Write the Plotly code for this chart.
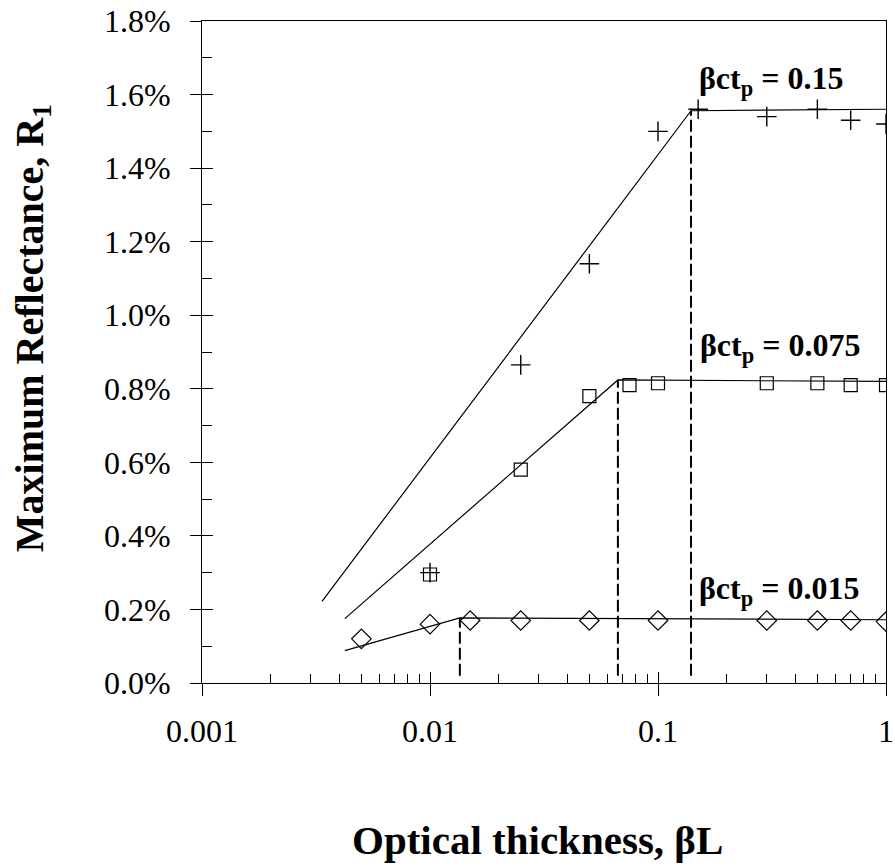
import math
import plotly.graph_objects as go

# Optical thickness values (beta*L) for the simulated points
x_015 = [0.01, 0.025, 0.05, 0.1, 0.15, 0.3, 0.5, 0.7, 1.0]
r_015 = [0.0030, 0.00865, 0.0114, 0.0150, 0.0156, 0.0154, 0.0156, 0.0153, 0.0152]

x_0075 = [0.01, 0.025, 0.05, 0.075, 0.1, 0.3, 0.5, 0.7, 1.0]
r_0075 = [0.00295, 0.0058, 0.0078, 0.0081, 0.00815, 0.00815, 0.00815, 0.0081, 0.0081]

x_0015 = [0.005, 0.01, 0.015, 0.025, 0.05, 0.1, 0.3, 0.5, 0.7, 1.0]
r_0015 = [0.0012, 0.0016, 0.0017, 0.0017, 0.0017, 0.0017, 0.0017, 0.0017, 0.0017, 0.00167]

# Piecewise fits: rising branch, knee, plateau
fit_x_015 = [0.00336, 0.1396, 1.0]
fit_r_015 = [0.00222, 0.01556, 0.0156]
fit_x_0075 = [0.00423, 0.0667, 1.0]
fit_r_0075 = [0.00175, 0.00824, 0.0082]
fit_x_0015 = [0.00423, 0.01352, 1.0]
fit_r_0015 = [0.00088, 0.00177, 0.00172]

# Knee markers (dashed drop lines)
knee_x = [0.1396, 0.0667, 0.01352]
knee_r = [0.01556, 0.00824, 0.00177]
drop_floor = 0.0002

# Curve labels
label_values = ["0.15", "0.075", "0.015"]
label_x = [0.148, 0.150, 0.149]
label_r = [0.01637, 0.00911, 0.00251]

x_ticks = [0.001, 0.01, 0.1, 1]
x_tick_text = ["0.001", "0.01", "0.1", "1"]
x_minor = [m * d for d in (0.001, 0.01, 0.1) for m in range(2, 10)]
y_major = [i * 0.002 for i in range(10)]
y_minor = [0.001 + i * 0.002 for i in range(9)]

FONT = "Liberation Serif, Times New Roman, serif"
BLACK = "#000000"

fig = go.Figure()

for fx, fr in ((fit_x_015, fit_r_015), (fit_x_0075, fit_r_0075), (fit_x_0015, fit_r_0015)):
    fig.add_trace(go.Scatter(x=fx, y=fr, mode="lines",
                             line=dict(color=BLACK, width=1.2), showlegend=False,
                             hoverinfo="skip"))

for kx, kr in zip(knee_x, knee_r):
    fig.add_trace(go.Scatter(x=[kx, kx], y=[drop_floor, kr], mode="lines",
                             line=dict(color=BLACK, width=2, dash="12px,4px"),
                             showlegend=False, hoverinfo="skip"))

fig.add_trace(go.Scatter(x=x_0075, y=r_0075, mode="markers", name="0.075",
                         marker=dict(symbol="square-open", size=13,
                                     line=dict(color=BLACK, width=1.2), color=BLACK),
                         showlegend=False))
fig.add_trace(go.Scatter(x=x_0015, y=r_0015, mode="markers", name="0.015",
                         marker=dict(symbol="diamond-open", size=15,
                                     line=dict(color=BLACK, width=1.2), color=BLACK),
                         showlegend=False))
fig.add_trace(go.Scatter(x=x_015, y=r_015, mode="markers", name="0.15",
                         marker=dict(symbol="cross-thin", size=14,
                                     line=dict(color=BLACK, width=1.4), color=BLACK),
                         showlegend=False))

for val, lx, lr in zip(label_values, label_x, label_r):
    fig.add_annotation(x=math.log10(lx), y=lr, xref="x", yref="y",
                       text=f"<b>\u03b2ct<sub>p</sub> = {val}</b>",
                       showarrow=False, xanchor="left", yanchor="middle",
                       font=dict(family=FONT, size=32, color=BLACK))

# Axis titles
fig.add_annotation(x=0.4898, y=-0.237, xref="paper", yref="paper",
                   text="<b>Optical thickness, \u03b2L</b>", showarrow=False,
                   xanchor="center", yanchor="middle",
                   font=dict(family=FONT, size=41, color=BLACK))
fig.add_annotation(x=-0.2485, y=0.536, xref="paper", yref="paper",
                   text="<b>Maximum Reflectance, R<sub>1</sub></b>", showarrow=False,
                   textangle=-90, xanchor="center", yanchor="middle",
                   font=dict(family=FONT, size=40, color=BLACK))

fig.update_layout(
    width=895, height=867,
    margin=dict(l=202, r=9, t=21, b=184, autoexpand=False),
    paper_bgcolor="white", plot_bgcolor="white",
    font=dict(family=FONT, size=32, color=BLACK),
    xaxis=dict(type="log", range=[-3, 0], tickvals=x_ticks, ticktext=x_tick_text,
               ticks="outside", ticklen=12, tickwidth=1, tickcolor=BLACK,
               showline=True, linecolor=BLACK, linewidth=1, mirror=True,
               showgrid=False, zeroline=False, ticklabelstandoff=8,
               minor=dict(tickvals=x_minor, ticks="inside", ticklen=9,
                          tickwidth=1, tickcolor=BLACK, showgrid=False)),
    yaxis=dict(range=[0, 0.018], tickvals=y_major,
               tickformat=".1%", ticks="outside", ticklen=11, tickwidth=1,
               tickcolor=BLACK, showline=True, linecolor=BLACK, linewidth=1,
               mirror=True, showgrid=False, zeroline=False, ticklabelstandoff=13,
               minor=dict(tickvals=y_minor, ticks="inside", ticklen=10, tickwidth=1,
                          tickcolor=BLACK, showgrid=False)),
    # inner halves of the crossing major ticks
    xaxis2=dict(type="log", range=[-3, 0], overlaying="x", side="bottom",
                tickvals=x_ticks, ticks="inside", ticklen=11, tickwidth=1,
                tickcolor=BLACK, showticklabels=False, showline=False,
                showgrid=False, zeroline=False),
    yaxis2=dict(range=[0, 0.018], overlaying="y", side="left",
                tickvals=y_major, ticks="inside", ticklen=11,
                tickwidth=1, tickcolor=BLACK, showticklabels=False, showline=False,
                showgrid=False, zeroline=False),
)

# invisible point so the overlay axes are drawn
fig.add_trace(go.Scatter(x=[0.5], y=[0.009], xaxis="x2", yaxis="y2", mode="markers",
                         marker=dict(opacity=0), showlegend=False, hoverinfo="skip"))

fig.write_html("out.html")
